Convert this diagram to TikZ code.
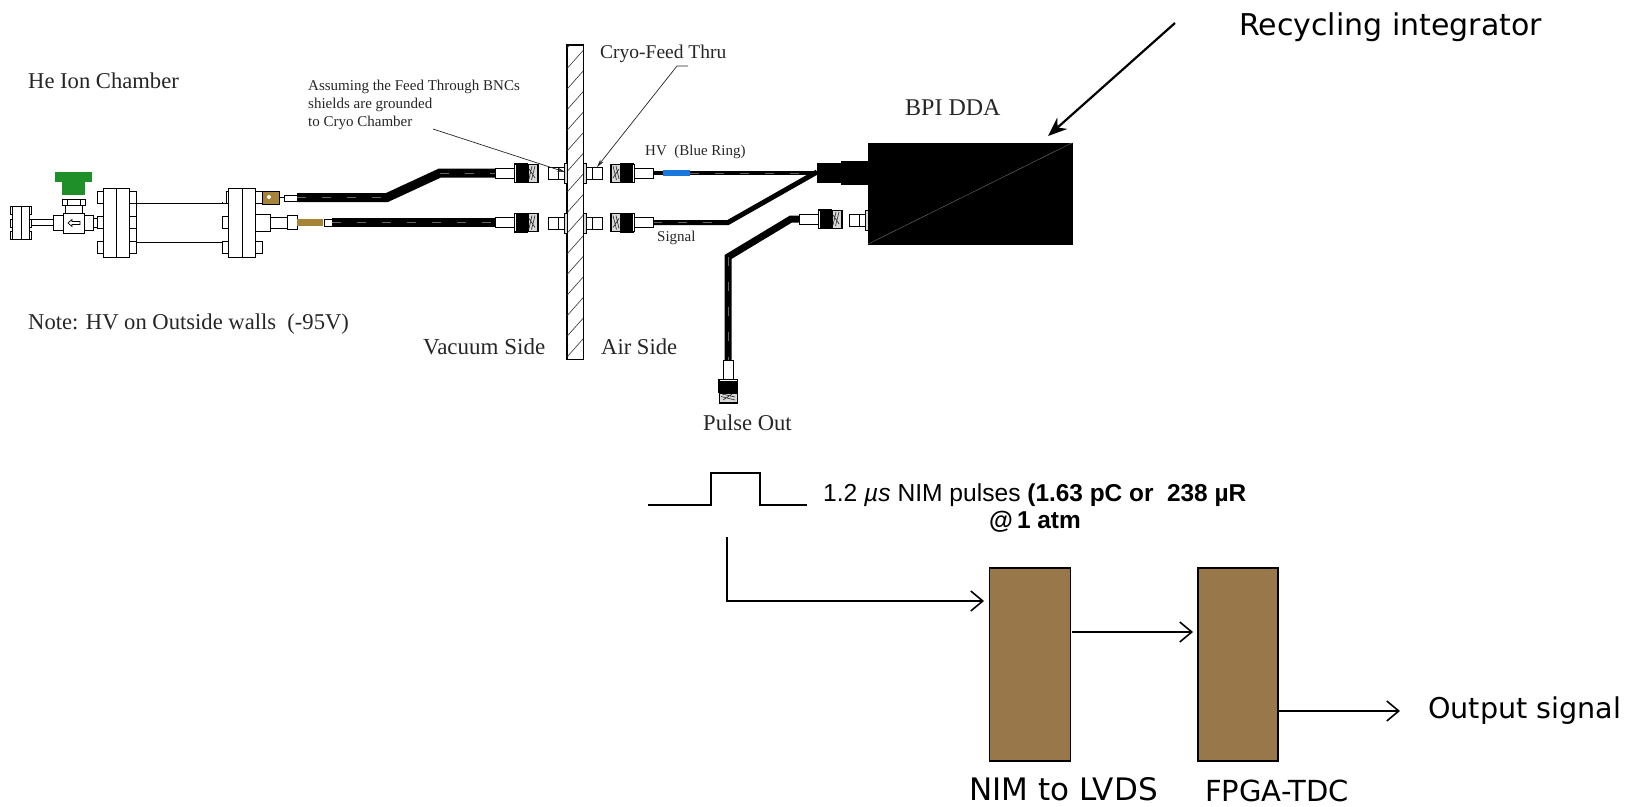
\documentclass[tikz,border=0pt]{standalone}
\usepackage{fontspec}
\usetikzlibrary{arrows.meta}
\setmainfont{Liberation Serif}
\newfontfamily\arialf{Liberation Sans}
\newfontfamily\comicf{DejaVu Sans}
\newcommand{\fs}[1]{\fontsize{#1}{#1}\selectfont}
\definecolor{boxbrown}{HTML}{98784B}
\definecolor{knobgreen}{HTML}{1F8F2A}
\definecolor{ringblue}{HTML}{1A78DC}
\definecolor{tan}{HTML}{A58438}
\tikzset{
  x=1pt,y=-1pt,
  lbl/.style={inner sep=0,anchor=west,text=black!85},
  serifa/.style={lbl,font=\fs{22.6}},
  serifb/.style={lbl,font=\fs{15}},
  comic/.style={lbl,text=black,font=\comicf\fs{#1}},
  part/.style={draw=black,fill=white,line width=.7},
  solidpart/.style={draw=black,fill=black},
  cable/.style={draw=black,line width=#1,line join=miter},
  sheen/.style={draw=black!60,line width=.4,dash pattern=on 9 off 16},
  leader/.style={draw=black!85,line width=.7,-{Stealth[length=8,width=4]}},
  flow/.style={draw=black,line width=1.6,-{Straight Barb[length=12,width=20,line width=1.6]}},
  pulseline/.style={draw=black,line width=1.3},
  module/.style={draw=black,fill=boxbrown,line width=1.2,inner sep=0},
  bncplug/.pic={
    \draw[part] (0,-5) rectangle (19,5);
    \fill[black] (19,-10) rectangle (33,10);
    \draw[part] (19,-9) rectangle (21,9);
    \draw[black,fill=white!85!black,line width=.7] (33,-9) rectangle (43,9);
    \fill[black] (41.5,-9.5) rectangle (43.5,9.5);
    \draw[black!80,line width=.7] (34,6)--(37,-7) (36.5,7)--(40,-7) (34,-4)--(40,5);
  },
  bncsocket/.pic={
    \draw[part,fill=white!85!black] (0,-10) rectangle (3,10);
    \draw[part] (3,-6) rectangle (19,6);
    \draw[black,line width=.7] (9,-6)--(9,6);
  },
  bolts/.pic={
    \foreach \yy in {-25,0,25}{\draw[part] (0,\yy-6) rectangle (7,\yy+6);}
  }
}
\begin{document}
\begin{tikzpicture}
\useasboundingbox (0,0) rectangle (1635,806);
% ---- labels
\node[comic=30] (recyc) at (1239,27) {Recycling integrator};
\node[serifa] (he) at (28,81) {He Ion Chamber};
\node[serifa] (note) at (28,324) {Note: HV on Outside walls\ \ (-95V)};
\node[serifa,font=\fs{24}] (bpi) at (905,108) {BPI DDA};
\node[serifa,font=\fs{19.5}] (cryo) at (600,54) {Cryo-Feed Thru};
\node[serifb,align=left,font=\fs{15},text=black!85] (assume) at (308,105) {Assuming the Feed Through BNCs\\[2.6pt]shields are grounded\\[2.6pt]to Cryo Chamber};
\node[serifb] (hvl) at (645,152) {HV\ \ (Blue Ring)};
\node[serifb] (sigl) at (657,238) {Signal};
\node[serifa,font=\fs{23}] (vac) at (423,347) {Vacuum Side};
\node[serifa] (air) at (601,347) {Air Side};
\node[serifa] (pout) at (703,423) {Pulse Out};
% ---- wall
\node[draw=black,fill=white,line width=1,minimum width=16,minimum height=314,inner sep=0] (wall) at (575,202) {};
\begin{scope}
\clip (567,45) rectangle (583,359);
\foreach \k in {0,...,16}{\draw[black!80,line width=.6] (567,48+\k*20.6)--(583,30+\k*20.6);}
\end{scope}
\draw[black,line width=1] (wall.south west) rectangle (wall.north east);
% ---- chamber
\draw[part] (136,203) rectangle (228,242);
\draw[part] (29,219) rectangle (53,225);
\draw[part] (53,215) rectangle (63,230);
\draw[part] (84,215) rectangle (93,230);
\draw[part] (93,218) rectangle (101,227);
\draw[part] (65,203) rectangle (82,213);
\draw[part] (62,199) rectangle (85,205);
\draw[black,line width=.6] (67,199)--(67,205) (80,199)--(80,205);
\draw[part] (63,213) rectangle (84,233);
\draw[black,line width=.7] (68,223)--(72,219.5)--(72,221.5)--(80,221.5)--(80,224.5)--(72,224.5)--(72,226.5)--cycle;
\fill[knobgreen] (62,182) rectangle (85,195);
\fill[knobgreen] (55,172) rectangle (92,182);
% small flange
\foreach \yy in {210,223,235}{\draw[part] (10,\yy-4) rectangle (12,\yy+4); \draw[part] (29,\yy-4) rectangle (31,\yy+4);}
\draw[part] (12,206) rectangle (29,239);
\draw[black,line width=.7] (21,206)--(21,239);
% large flanges
\path (129,222.5) pic {bolts};
\path (255,222.5) pic {bolts};
\path (222,222.5) pic {bolts};
\path (97,222.5) pic {bolts};
\fill[white] (218,190) rectangle (227,202.4);
\draw[part] (226,191) rectangle (228,203);
\draw[part] (103,188) rectangle (129,257);
\draw[black,line width=.7] (116,188)--(116,257);
\draw[part] (228,188) rectangle (255,257);
\draw[black,line width=.7] (242,188)--(242,257);
% HV lead
\draw[black,fill=tan,line width=.7] (262,191) rectangle (279,204);
\fill[white] (269,197) circle (2);
\draw[black,line width=.7] (279,197.5)--(284,197.5);
\draw[part] (284,195) rectangle (297,201);
% signal lead
\draw[part] (255,214) rectangle (270,231);
\draw[part] (270,217) rectangle (287,228);
\draw[part] (287,215) rectangle (297,229);
\fill[tan] (297,219) rectangle (323,226);
\draw[part] (324,219) rectangle (332,226);
% ---- cables
\coordinate (hv0) at (297,197.5); \coordinate (hv1) at (387,197.5); \coordinate (hv2) at (440,173); \coordinate (hv3) at (495,173);
\coordinate (sg0) at (332,222.5); \coordinate (sg1) at (495,222.5);
\draw[cable=9] (hv0)--(hv1)--(hv2)--(hv3);
\draw[sheen] (hv0)--(hv1) (hv2)--(hv3);
\draw[cable=9] (sg0)--(sg1);
\draw[sheen] (sg0)--(sg1);
\coordinate (hvr0) at (653,173); \coordinate (hvr1) at (817,173);
\coordinate (sgr0) at (653,222.5); \coordinate (sgr1) at (728,222.5); \coordinate (sgr2) at (817,172);
\coordinate (po0) at (799,219); \coordinate (po1) at (791,219); \coordinate (po2) at (728,257); \coordinate (po3) at (728,360);
\draw[cable=4.5] (hvr0)--(hvr1);
\draw[sheen] (690,173)--(817,173);
\draw[cable=5] (sgr0)--(sgr1)--(sgr2);
\draw[sheen] (sgr0)--(sgr1);
\draw[cable=7] (po0)--(po1)--(po2)--(po3);
\draw[sheen] (po2)--(po3);
\fill[ringblue] (663,170) rectangle (690,176);
% ---- connectors
\path (495,173) pic {bncplug};
\path (495,222.5) pic {bncplug};
\begin{scope}[shift={(567,223)},xscale=-1]\path (0,0) pic[transform shape] {bncsocket};\end{scope}
\begin{scope}[shift={(567,173)},xscale=-1]\path (0,0) pic[transform shape] {bncsocket};\end{scope}
\begin{scope}[shift={(583,173)}]\path (0,0) pic[transform shape] {bncsocket};\end{scope}
\begin{scope}[shift={(583,223)}]\path (0,0) pic[transform shape] {bncsocket};\end{scope}
\begin{scope}[shift={(653,173)},xscale=-1]\path (0,0) pic[transform shape] {bncplug};\end{scope}
\begin{scope}[shift={(653,222.5)},xscale=-1]\path (0,0) pic[transform shape] {bncplug};\end{scope}
\begin{scope}[shift={(799,219)}]\path (0,0) pic[transform shape] {bncplug};\end{scope}
\begin{scope}[shift={(728,360)},rotate=-90]\path (0,0) pic[transform shape] {bncplug};\end{scope}
\begin{scope}[shift={(868,220.5)},xscale=-1]\path (0,0) pic[transform shape] {bncsocket};\end{scope}
% ---- DDA
\fill[black] (817,163) rectangle (841,183);
\fill[black] (841,161) rectangle (868,185);
\node[solidpart,minimum width=204,minimum height=101,inner sep=0] (dda) at (970,193.5) {};
\draw[white!45!black,line width=.4] (dda.south west)--(dda.north east);
% ---- leaders
\coordinate (l1) at (433,129); \coordinate (l2) at (565,172);
\coordinate (c1) at (688,66); \coordinate (c2) at (677,66); \coordinate (c3) at (597,167);
\draw[leader] (l1)--(l2);
\draw[leader] (c1)--(c2)--(c3);
\coordinate (r1) at (1175,23); \coordinate (r2) at (1048,136);
\draw[black,line width=2.2,-{Stealth[length=19,width=15]}] (r1)--(r2);
% ---- pulse
\coordinate (p0) at (647.5,505); \coordinate (p1) at (711,505); \coordinate (p2) at (711,473); \coordinate (p3) at (760,473); \coordinate (p4) at (760,505); \coordinate (p5) at (807,505);
\draw[pulseline] (p0)--(p1)--(p2)--(p3)--(p4)--(p5);
\node[lbl,text=black,font=\arialf\fs{24.6}] (ptext) at (823,495) {1.2 \textit{µs} NIM pulses {\bfseries\fs{24.4}(1.63 pC or\ \ 238 µR}};
\node[lbl,text=black,font=\arialf\bfseries\fs{24.4}] (atm) at (989,522) {@\,1 atm};
% ---- modules
\node[module,minimum width=81,minimum height=193] (nim) at (1030,664.5) {};
\node[module,minimum width=80,minimum height=193] (tdc) at (1238,664.5) {};
\coordinate (tap) at (727,537); \coordinate (nimin) at (984,601);
\coordinate (nimout) at (1072,632); \coordinate (tdcin) at (1193,632);
\coordinate (tdcout) at (1279,711); \coordinate (outend) at (1400,711);
\draw[flow] (tap) |- (nimin);
\draw[flow] (nimout)--(tdcin);
\draw[flow] (tdcout)--(outend);
\node[comic=28.6] (outl) at (1428,711) {Output signal};
\node[comic=31] (niml) at (969,789) {NIM to LVDS};
\node[comic=29] (tdcl) at (1205,791) {FPGA-TDC};
\end{tikzpicture}
\end{document}
